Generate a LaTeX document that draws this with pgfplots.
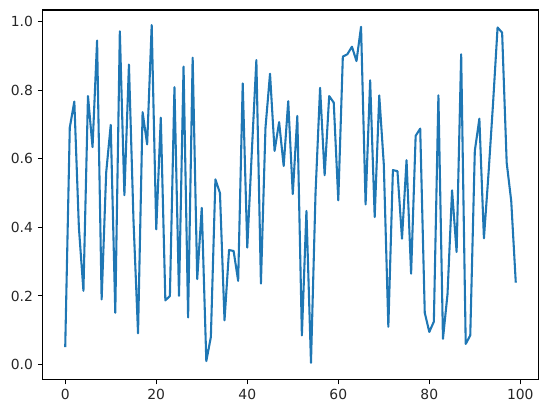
\documentclass[border=0pt]{standalone}
\usepackage{fontspec}
\setmainfont{DejaVu Sans}
\usepackage{pgfplots}
\pgfplotsset{compat=1.18}
\definecolor{tabblue}{HTML}{1F77B4}
\begin{document}
\fontsize{13.9bp}{16bp}\selectfont
\begin{tikzpicture}
\useasboundingbox (-42.7bp,-33.4bp) rectangle (504.3bp,379.6bp);
\begin{axis}[
  scale only axis,
  width=495.6bp, height=369.6bp,
  xmin=-4.95, xmax=103.95, ymin=-0.044, ymax=1.034,
  xtick={0,20,40,60,80,100},
  ytick={0,0.2,0.4,0.6,0.8,1.0},
  yticklabel style={/pgf/number format/.cd, fixed, fixed zerofill, precision=1},
  /pgf/number format/assume math mode=true,
  tick align=outside,
  major tick length=4.86bp,
  tick pos=left,
  axis line style={line width=1.1bp},
  every tick/.style={line width=1.1bp, black},
  ticklabel style={font=\fontsize{13.9bp}{16bp}\selectfont, text=black!85},
]
\addplot[tabblue, line width=2.08bp, line join=round, mark=none] coordinates {
(0,0.051) (1,0.691) (2,0.767) (3,0.40) (4,0.215) (5,0.783) (6,0.634) (7,0.945) (8,0.19) (9,0.56)
(10,0.699) (11,0.151) (12,0.972) (13,0.494) (14,0.875) (15,0.42) (16,0.091) (17,0.736) (18,0.642) (19,0.99)
(20,0.394) (21,0.72) (22,0.187) (23,0.20) (24,0.809) (25,0.20) (26,0.869) (27,0.137) (28,0.895) (29,0.249)
(30,0.457) (31,0.01) (32,0.08) (33,0.54) (34,0.50) (35,0.129) (36,0.334) (37,0.331) (38,0.244) (39,0.82)
(40,0.341) (41,0.62) (42,0.888) (43,0.236) (44,0.69) (45,0.848) (46,0.623) (47,0.707) (48,0.579) (49,0.768)
(50,0.497) (51,0.725) (52,0.085) (53,0.448) (54,0.005) (55,0.50) (56,0.807) (57,0.552) (58,0.783) (59,0.764)
(60,0.479) (61,0.898) (62,0.905) (63,0.927) (64,0.885) (65,0.985) (66,0.467) (67,0.829) (68,0.43) (69,0.785)
(70,0.584) (71,0.11) (72,0.567) (73,0.564) (74,0.367) (75,0.596) (76,0.265) (77,0.667) (78,0.688) (79,0.151)
(80,0.095) (81,0.125) (82,0.785) (83,0.075) (84,0.205) (85,0.508) (86,0.328) (87,0.905) (88,0.06) (89,0.085)
(90,0.623) (91,0.717) (92,0.368) (93,0.555) (94,0.76) (95,0.983) (96,0.968) (97,0.589) (98,0.477) (99,0.239)
};
\end{axis}
\end{tikzpicture}
\end{document}
